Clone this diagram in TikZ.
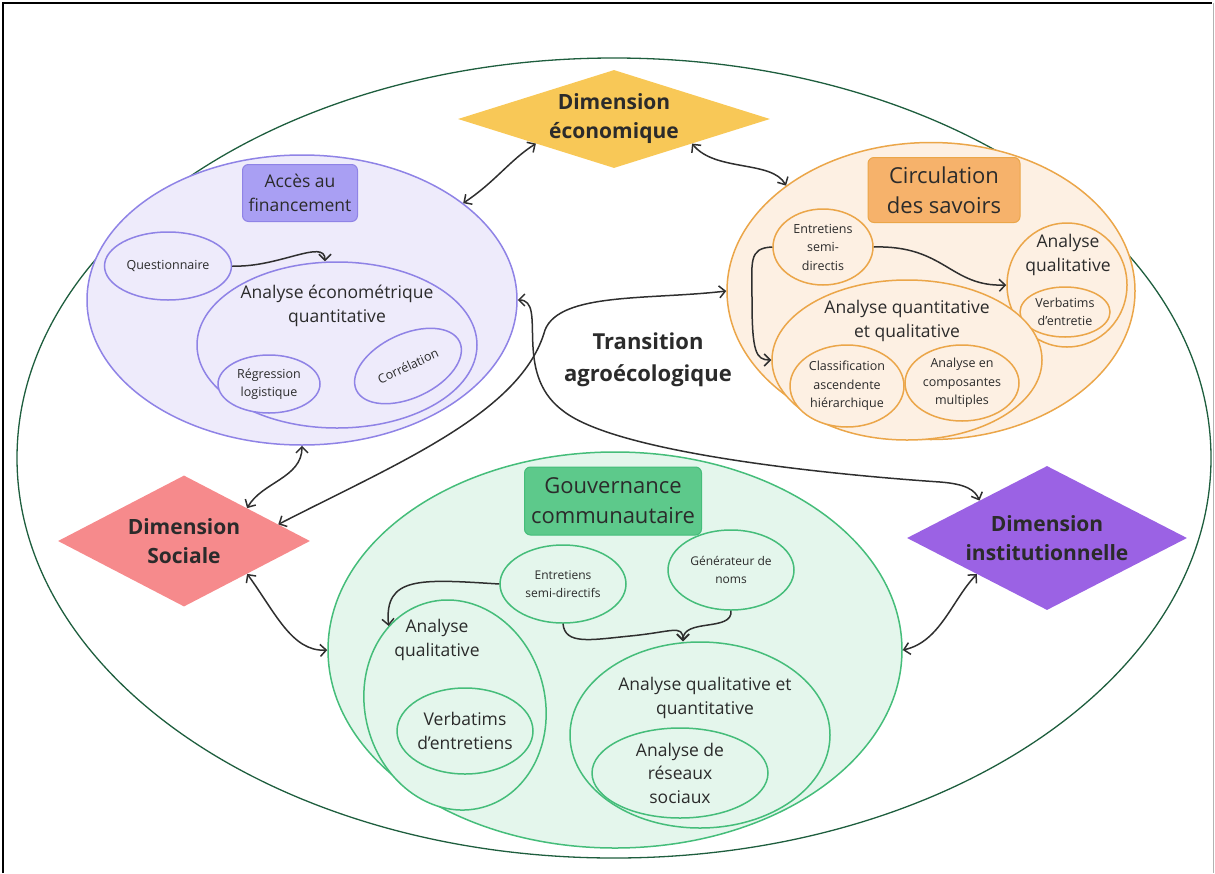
\documentclass[tikz,border=0pt]{standalone}
\usepackage{fontspec}
\setmainfont{Open Sans}
\usetikzlibrary{shapes.geometric,arrows.meta}

\definecolor{ink}{HTML}{2B2B2B}
\definecolor{linkgray}{HTML}{2F2F2F}
\definecolor{outerline}{HTML}{1E5E3E}
\definecolor{lavfill}{HTML}{EEEBFB}
\definecolor{lavline}{HTML}{8F83E6}
\definecolor{lavtitle}{HTML}{A99FF3}
\definecolor{orfill}{HTML}{FDF0E3}
\definecolor{orline}{HTML}{EBA649}
\definecolor{ortitle}{HTML}{F6B26B}
\definecolor{grfill}{HTML}{E4F6EC}
\definecolor{grline}{HTML}{45BD7A}
\definecolor{grtitle}{HTML}{5DC98B}
\definecolor{dimyellow}{HTML}{F8C857}
\definecolor{dimpink}{HTML}{F68A8C}
\definecolor{dimviolet}{HTML}{9B62E4}

\newcommand\apos{\char"0027\relax}

\tikzstyle{blob}=[ellipse,draw,line width=1.5pt,inner sep=0pt,align=center,text=ink]
\tikzstyle{tag}=[rectangle,draw,line width=1pt,rounded corners=6pt,inner sep=0pt,align=center,text=ink]
\tikzstyle{dim}=[diamond,inner sep=0pt,align=center,text=ink,font=\bfseries\fontsize{21}{29}\selectfont]
\tikzstyle{link}=[draw=linkgray,line width=1.5pt,{Straight Barb[length=6pt,width=12pt]}-{Straight Barb[length=6pt,width=12pt]}]
\tikzstyle{flow}=[draw=linkgray,line width=1.5pt,-{Straight Barb[length=6pt,width=12pt]}]
\tikzstyle{ftiny}=[font=\fontsize{12.5}{18.5}\selectfont]
\tikzstyle{fmid}=[font=\fontsize{17.5}{23.5}\selectfont]
\tikzstyle{fbig}=[font=\fontsize{22}{30}\selectfont]

\begin{document}
\begin{tikzpicture}[x=1pt,y=-1pt]
  \useasboundingbox (0,0) rectangle (1215,873);
  \draw[line width=2.5pt] (3,873) -- (3,3) -- (1212,3);
  \draw[line width=1pt,gray!60] (1213,3) -- (1213,873);
  \node[ellipse,draw=outerline,line width=1.3pt,minimum width=1194,minimum height=800] (world) at (614,458) {};
  \node[text=ink,align=center,font=\bfseries\fontsize{22}{32}\selectfont] (transition) at (648,360) {Transition\\agroécologique};

  \node[blob,draw=lavline,fill=lavfill,minimum width=430,minimum height=290] (acces) at (302,300) {};
  \node[tag,draw=lavline,fill=lavtitle,fmid,minimum width=115,minimum height=57] (accestitle) at (300,193) {Accès au\\financement};
  \node[blob,draw=lavline,fill=lavfill,ftiny,minimum width=127,minimum height=68] (quest) at (168,266) {Questionnaire};
  \node[blob,draw=lavline,fill=lavfill,minimum width=280,minimum height=166] (anaeco) at (337,345) {};
  \node[fmid,text=ink,align=center] at (337,306) {Analyse économétrique\\quantitative};
  \node[blob,draw=lavline,fill=lavfill,ftiny,minimum width=102,minimum height=58] (regr) at (269,384) {Régression\\logistique};
  \node[blob,draw=lavline,fill=lavfill,ftiny,minimum width=114,minimum height=64,rotate=25] (correl) at (408,366) {Corrélation};
  \draw[flow] (quest.east) .. controls (278,268) and (325,238) .. ([xshift=-12pt]anaeco.north);

  \node[blob,draw=orline,fill=orfill,minimum width=408,minimum height=297] (circ) at (931,291) {};
  \node[tag,draw=orline,fill=ortitle,fbig,minimum width=152,minimum height=65] (circtitle) at (944,190) {Circulation\\des savoirs};
  \node[blob,draw=orline,fill=orfill,ftiny,minimum width=100,minimum height=76] (entor) at (823,247) {Entretiens\\semi-\\directis};
  \node[blob,draw=orline,fill=orfill,minimum width=120,minimum height=124] (qualor) at (1067,285) {};
  \node[fmid,text=ink,align=center] at (1068,255) {Analyse\\qualitative};
  \node[blob,draw=orline,fill=orfill,ftiny,inner sep=-3pt,minimum width=90,minimum height=50] (verbor) at (1065,312) {Verbatims\\d\apos entretie};
  \node[blob,draw=orline,fill=orfill,minimum width=270,minimum height=160] (mixor) at (907,360) {};
  \node[fmid,text=ink,align=center] at (907,321) {Analyse quantitative\\et qualitative};
  \node[blob,draw=orline,fill=orfill,ftiny,minimum width=114,minimum height=82] (cah) at (847,386) {Classification\\ascendente\\hiérarchique};
  \node[blob,draw=orline,fill=orfill,ftiny,minimum width=114,minimum height=76] (acm) at (962,383) {Analyse en\\composantes\\multiples};
  \draw[flow] (entor.east) .. controls (945,245) and (950,287) .. (qualor.west);
  \draw[flow] (entor.west) .. controls (748,248) and (752,262) .. (752,300) .. controls (752,352) and (756,360) .. (mixor.west);

  \node[blob,draw=grline,fill=grfill,minimum width=574,minimum height=396] (gouv) at (615,650) {};
  \node[tag,draw=grline,fill=grtitle,fbig,minimum width=177,minimum height=68] (gouvtitle) at (613,501) {Gouvernance\\communautaire};
  \node[blob,draw=grline,fill=grfill,font=\fontsize{12}{18}\selectfont,minimum width=126,minimum height=78] (entgr) at (563,584) {Entretiens\\semi-directifs};
  \node[blob,draw=grline,fill=grfill,font=\fontsize{12}{18}\selectfont,minimum width=126,minimum height=80] (gen) at (731,570) {Générateur de\\noms};
  \node[blob,draw=grline,fill=grfill,minimum width=180,minimum height=212,rotate=15] (qualgr) at (455,705) {};
  \node[fmid,text=ink,align=center] at (437,640) {Analyse\\qualitative};
  \node[blob,draw=grline,fill=grfill,fmid,inner sep=-4pt,minimum width=136,minimum height=86] (verbgr) at (465,731) {Verbatims\\d\apos entretiens};
  \node[blob,draw=grline,fill=grfill,minimum width=260,minimum height=186] (mixgr) at (700,735) {};
  \node[fmid,text=ink,align=center] at (705,698) {Analyse qualitative et\\quantitative};
  \node[blob,draw=grline,fill=grfill,fmid,inner sep=-9pt,minimum width=176,minimum height=90] (reseaux) at (680,773) {Analyse de\\réseaux\\sociaux};
  \draw[flow] (entgr.west) .. controls (420,579) and (384,576) .. (qualgr.115);
  \draw[flow] (entgr.south) .. controls (565,645) and (590,640) .. (630,636) .. controls (672,632) and (683,624) .. ([xshift=-17pt]mixgr.north);
  \draw[flow] (gen.south) .. controls (733,632) and (683,618) .. ([xshift=-17pt]mixgr.north);

  \node[dim,fill=dimyellow,aspect=3.2,minimum width=312,minimum height=98] (dimeco) at (614,119) {Dimension\\économique};
  \node[dim,fill=dimpink,aspect=1.94,minimum width=252,minimum height=131] (dimsoc) at (184,541) {Dimension\\Sociale};
  \node[dim,fill=dimviolet,aspect=1.94,minimum width=280,minimum height=144] (diminst) at (1047,538) {Dimension\\institutionnelle};

  \draw[link] (acces.31) .. controls (495,182) and (510,160) .. (dimeco.south west);
  \draw[link] (dimeco.south east) .. controls (715,172) and (772,160) .. (circ.144);
  \draw[link] (acces.south) .. controls (302,478) and (262,482) .. (dimsoc.north east);
  \draw[link] (dimsoc.10) .. controls (400,462) and (522,412) .. (545,330) .. controls (560,292) and (650,300) .. (circ.west);
  \draw[link] (acces.east) .. controls (548,300) and (512,372) .. (562,410) .. controls (620,458) and (880,478) .. (940,482) .. controls (966,484) and (975,490) .. (diminst.151);
  \draw[link] (dimsoc.south east) .. controls (275,612) and (292,652) .. (gouv.west);
  \draw[link] (gouv.east) .. controls (940,642) and (952,600) .. (diminst.south west);
\end{tikzpicture}
\end{document}
